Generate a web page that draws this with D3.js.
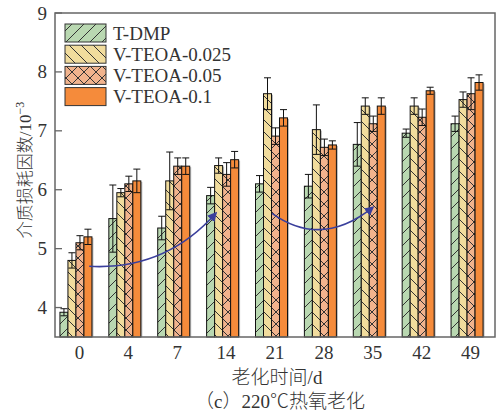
<!DOCTYPE html>
<html><head><meta charset="utf-8">
<script src="https://cdn.jsdelivr.net/npm/d3@7"></script>
<style>
html,body{margin:0;padding:0;background:#fff;}
svg{display:block;}
text{font-family:"Liberation Serif","Noto Sans CJK SC",serif;fill:#333;}
.cjk{font-weight:300;}
</style></head>
<body>
<svg id="chart" width="497" height="414"></svg>
<script>
const categories = ["0","4","7","14","21","28","35","42","49"];
const seriesNames = ["T-DMP","V-TEOA-0.025","V-TEOA-0.05","V-TEOA-0.1"];
const tDMP     = [3.92,5.51,5.35,5.90,6.10,6.06,6.77,6.96,7.12];
const tDMPErr  = [0.06,0.57,0.20,0.14,0.14,0.20,0.37,0.07,0.13];
const v025     = [4.80,5.95,6.15,6.41,7.63,7.02,7.42,7.42,7.53];
const v025Err  = [0.13,0.07,0.49,0.13,0.27,0.42,0.14,0.14,0.13];
const v05      = [5.10,6.10,6.40,6.26,6.91,6.72,7.12,7.23,7.63];
const v05Err   = [0.12,0.13,0.14,0.20,0.14,0.14,0.13,0.14,0.27];
const v1       = [5.20,6.15,6.40,6.51,7.22,6.76,7.42,7.68,7.82];
const v1Err    = [0.13,0.20,0.14,0.14,0.14,0.07,0.14,0.06,0.13];
const yTicks   = [4,5,6,7,8,9];
// arrow annotations in data units: [group index position, value]
const arrow1 = [[0.20,4.70],[1.75,4.63],[2.79,5.60]];
const arrow2 = [[3.94,5.60],[4.95,5.00],[6.00,5.70]];

const series = [tDMP,v025,v05,v1];
const errs = [tDMPErr,v025Err,v05Err,v1Err];
const fills = ["#b9d8b1","#f1dc9d","#f1b38d","#f58b3b"];
const patterns = ["url(#pFwd)","url(#pBack)","url(#pCross)",null];

const svg = d3.select("#chart");
const L=55, R=495, T=13, B=337;
const x = d3.scaleBand().domain(categories).range([L,R]).padding(0);
const y = d3.scaleLinear().domain([3.5,9]).range([B,T]);
const bw = 8, groupShift = -19.5;
const bandIdx = d3.scaleLinear().domain([0,1]).range([x(categories[0])+x.bandwidth()/2, x(categories[1])+x.bandwidth()/2]);

const defs = svg.append("defs");
function pat(id, paths){
  const p = defs.append("pattern").attr("id",id).attr("patternUnits","userSpaceOnUse")
    .attr("width",12).attr("height",12);
  paths.forEach(d=>p.append("path").attr("d",d).attr("stroke","#333").attr("stroke-width",1).attr("fill","none"));
}
pat("pFwd",["M-3,3 L3,-3","M0,12 L12,0","M9,15 L15,9"]);
pat("pBack",["M-3,9 L3,15","M0,0 L12,12","M9,-3 L15,3"]);
pat("pCross",["M0,0 L12,12","M0,12 L12,0"]);
defs.append("marker").attr("id","ah").attr("viewBox","0 0 10 10").attr("refX",8).attr("refY",5)
  .attr("markerWidth",6).attr("markerHeight",6).attr("orient","auto")
  .append("path").attr("d","M0,0 L10,5 L0,10 z").attr("fill","#3a3f9c");

// bars
const g = svg.append("g");
series.forEach((vals,k)=>{
  vals.forEach((v,i)=>{
    const bx = x(categories[i]) + x.bandwidth()/2 + groupShift + k*bw;
    g.append("rect").attr("x",bx+1.5).attr("y",y(v)+1).attr("width",bw).attr("height",B-y(v)-1)
      .attr("fill","#bbb");
  });
});
series.forEach((vals,k)=>{
  vals.forEach((v,i)=>{
    const bx = x(categories[i]) + x.bandwidth()/2 + groupShift + k*bw;
    g.append("rect").attr("x",bx).attr("y",y(v)).attr("width",bw).attr("height",B-y(v))
      .attr("fill",fills[k]);
    if(patterns[k]) g.append("rect").attr("x",bx).attr("y",y(v)).attr("width",bw).attr("height",B-y(v))
      .attr("fill",patterns[k]);
    g.append("rect").attr("x",bx).attr("y",y(v)).attr("width",bw).attr("height",B-y(v))
      .attr("fill","none").attr("stroke","#111").attr("stroke-width",1);
  });
});
// error bars
series.forEach((vals,k)=>{
  vals.forEach((v,i)=>{
    const cx = x(categories[i]) + x.bandwidth()/2 + groupShift + k*bw + bw/2;
    const e = errs[k][i];
    g.append("line").attr("x1",cx).attr("x2",cx).attr("y1",y(v+e)).attr("y2",y(v-e)).attr("stroke","#111").attr("stroke-width",1);
    [v+e,v-e].forEach(t=>g.append("line").attr("x1",cx-3.5).attr("x2",cx+3.5).attr("y1",y(t)).attr("y2",y(t)).attr("stroke","#111").attr("stroke-width",1));
  });
});

// arrows
function quad(pts){
  const p = pts.map(d=>[bandIdx(d[0]),y(d[1])]);
  return `M${p[0][0]},${p[0][1]} Q${p[1][0]},${p[1][1]} ${p[2][0]},${p[2][1]}`;
}
[arrow1,arrow2].forEach(a=>svg.append("path").attr("d",quad(a)).attr("fill","none")
  .attr("stroke","#3a3f9c").attr("stroke-width",1.6).attr("marker-end","url(#ah)"));

// frame
svg.append("rect").attr("x",L).attr("y",T).attr("width",R-L).attr("height",B-T)
  .attr("fill","none").attr("stroke","#666").attr("stroke-width",1.5);

// y axis
const yAxis = svg.append("g");
yTicks.forEach(t=>{
  yAxis.append("line").attr("x1",L).attr("x2",L+7).attr("y1",y(t)).attr("y2",y(t)).attr("stroke","#666").attr("stroke-width",1.3);
  yAxis.append("text").attr("x",L-8).attr("y",y(t)+6.5).attr("text-anchor","end").attr("font-size",19).text(t);
});
// x labels
categories.forEach(c=>{
  svg.append("text").attr("x",x(c)+x.bandwidth()/2).attr("y",359).attr("text-anchor","middle").attr("font-size",19).text(c);
});
svg.append("text").attr("class","cjk").attr("x",277).attr("y",384).attr("text-anchor","middle").attr("font-size",19).text("老化时间/d");
svg.append("text").attr("class","cjk").attr("x",280).attr("y",408).attr("text-anchor","middle").attr("font-size",19).text("（c）220℃热氧老化");
const yl = svg.append("text").attr("class","cjk").attr("transform","translate(31,170) rotate(-90)").attr("text-anchor","middle").attr("font-size",17);
yl.append("tspan").text("介质损耗因数/10");
yl.append("tspan").attr("dy",-7).attr("font-size",12).text("−3");

// legend
const leg = svg.append("g");
seriesNames.forEach((n,k)=>{
  const ty = 24 + k*21.2;
  leg.append("rect").attr("x",65).attr("y",ty).attr("width",41).attr("height",18).attr("fill",fills[k]);
  if(patterns[k]) leg.append("rect").attr("x",65).attr("y",ty).attr("width",41).attr("height",18).attr("fill",patterns[k]);
  leg.append("rect").attr("x",65).attr("y",ty).attr("width",41).attr("height",18).attr("fill","none").attr("stroke","#333").attr("stroke-width",1);
  leg.append("text").attr("x",113).attr("y",ty+15.5).attr("font-size",19).text(n);
});
</script>
</body></html>
